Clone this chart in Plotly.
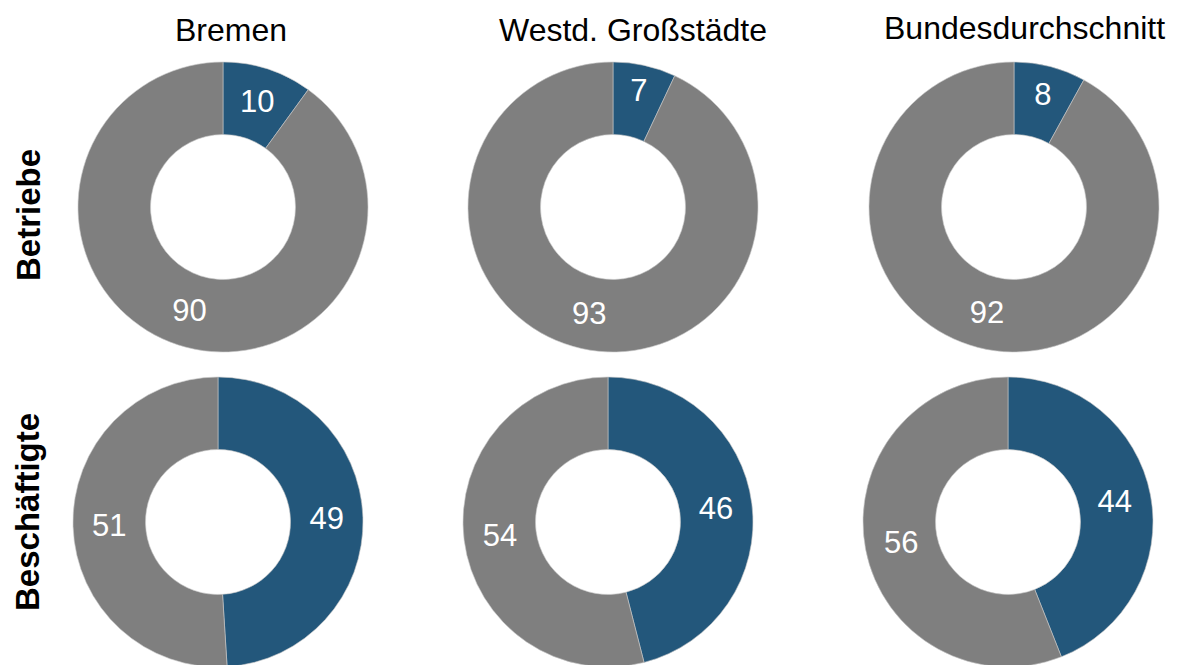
import plotly.graph_objects as go

# Anteile in Prozent: [Gruppe, Rest]
regionen = ["Bremen", "Westd. Großstädte", "Bundesdurchschnitt"]
zeilen = ["Betriebe", "Beschäftigte"]
betriebe = [[10, 90], [7, 93], [8, 92]]
beschaeftigte = [[49, 51], [46, 54], [44, 56]]
kategorien = ["Gruppe", "Übrige"]

BLAU = "#23577b"
GRAU = "#7f7f7f"
W, H = 1181, 665
OFF = 8  # Seitenrand des Browsers
FONT = "Liberation Sans, Arial, sans-serif"

# Mittelpunkte der Ringe in Pixeln (Bildkoordinaten)
mitten_x = [[223, 613, 1014], [218, 608, 1008]]
mitten_y = [207, 522]
R = 145


def px_x(x):
    return (x - OFF) / W


def px_y(y):
    return 1 - (y - OFF) / H


fig = go.Figure()

for zi, daten in enumerate([betriebe, beschaeftigte]):
    for si, werte in enumerate(daten):
        cx, cy = mitten_x[zi][si], mitten_y[zi]
        fig.add_trace(go.Pie(
            labels=kategorien,
            values=werte,
            hole=0.5,
            sort=False,
            direction="clockwise",
            rotation=0,
            marker=dict(colors=[BLAU, GRAU], line=dict(color="#c8c8c8", width=0.6)),
            textinfo="value",
            textposition="inside",
            insidetextorientation="horizontal",
            textfont=dict(color="white", size=31, family=FONT),
            domain=dict(x=[px_x(cx - R), px_x(cx + R)],
                        y=[max(0, px_y(cy + R)), min(1, px_y(cy - R))]),
            showlegend=False,
            hoverinfo="label+value",
        ))

# Spaltentitel
titel_pos = [(231, 30), (633, 30), (1024, 28)]
for name, (tx, ty) in zip(regionen, titel_pos):
    fig.add_annotation(
        text=name, x=px_x(tx), y=px_y(ty), xref="paper", yref="paper",
        showarrow=False, xanchor="center", yanchor="middle",
        font=dict(size=32, color="black", family=FONT),
    )

# Zeilenbeschriftungen
zeilen_pos = [(28, 215), (27, 512)]
for name, (tx, ty) in zip(zeilen, zeilen_pos):
    fig.add_annotation(
        text=f"<b>{name}</b>", x=px_x(tx), y=px_y(ty), xref="paper", yref="paper",
        showarrow=False, xanchor="center", yanchor="middle", textangle=-90,
        font=dict(size=33, color="black", family=FONT),
    )

fig.update_layout(
    width=W,
    height=H,
    margin=dict(l=0, r=0, t=0, b=0),
    paper_bgcolor="white",
    plot_bgcolor="white",
)

fig.write_html("out.html")
